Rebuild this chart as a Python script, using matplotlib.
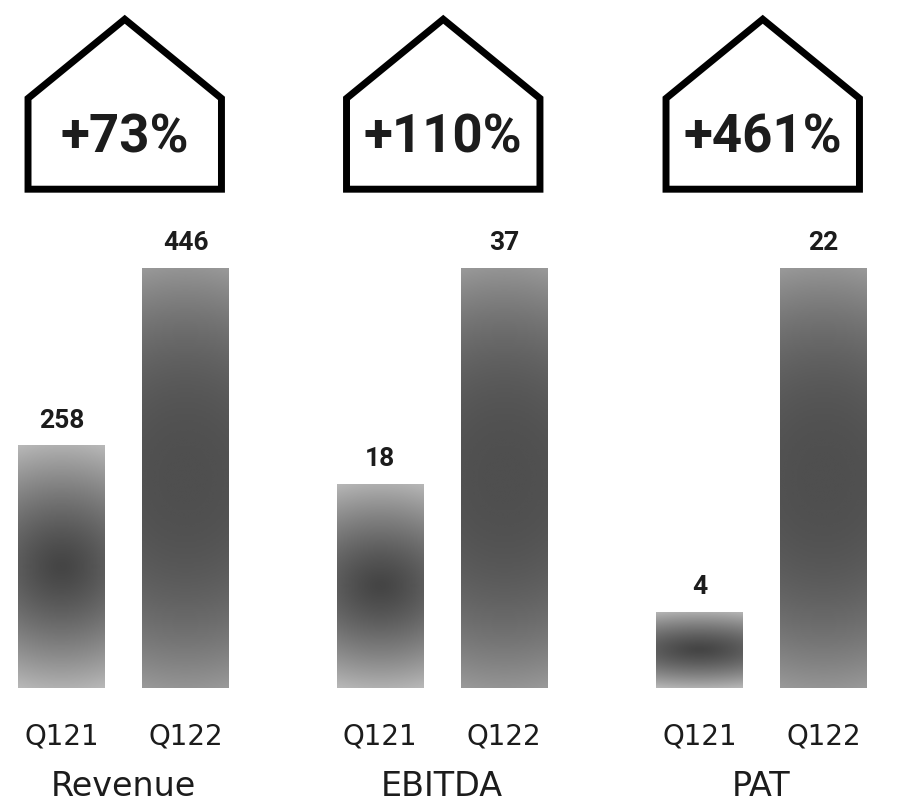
import numpy as np
import matplotlib
matplotlib.use("Agg")
import matplotlib.pyplot as plt
from matplotlib.patches import Polygon
from matplotlib.transforms import blended_transform_factory

# data
metrics = ["Revenue", "EBITDA", "PAT"]
quarters = ["Q121", "Q122"]
q121 = [258, 18, 4]
q122 = [446, 37, 22]
growth = ["+73%", "+110%", "+461%"]

W, H = 913, 809
U = 124                      # px per bar slot
left_centres = [61.5, 380, 699.5]
BOTTOM, TOP = 688, 268       # px of bar base / tallest bar top
TXT = "#1c1c1c"

# (x-radius, y-radius, power, dark, light) for the radial shading of each bar
SHADE = [(3.0, 1.0, 1.4, 0.27, 0.69), (4.0, 1.0, 2.4, 0.31, 0.58)]


def shading(ny, nx, rx, ry, p, dark, light):
    v = np.linspace(-1, 1, ny)[:, None]
    u = np.linspace(-1, 1, nx)[None, :]
    r = np.sqrt((u / rx) ** 2 + (v / ry) ** 2)
    return np.clip(dark + (light - dark) * r ** p, 0, 1)


fig = plt.figure(figsize=(W / 100, H / 100), dpi=100)

for i, m in enumerate(metrics):
    x0 = left_centres[i] - 0.45 * U
    ax = fig.add_axes([x0 / W, (H - BOTTOM) / H, 1.9 * U / W, BOTTOM / H])
    vals = [q121[i], q122[i]]
    bars = ax.bar([0, 1], vals, width=0.70, color="none", edgecolor="none")
    for j, b in enumerate(bars):
        img = shading(200, 60, *SHADE[j])
        im = ax.imshow(img, cmap="gray", vmin=0, vmax=1, aspect="auto", origin="lower",
                       interpolation="bicubic",
                       extent=[b.get_x(), b.get_x() + b.get_width(), 0, b.get_height()])
        im.set_clip_path(b)
        ax.annotate(f"{vals[j]}", (j, vals[j]), xytext=(0, 9), textcoords="offset points",
                    ha="center", va="bottom", fontsize=19, fontweight="bold",
                    family="Roboto", color=TXT)
    ax.set_xlim(-0.45, 1.45)
    ax.set_ylim(0, max(vals) * BOTTOM / (BOTTOM - TOP))
    ax.set_xticks([0, 1], quarters)
    ax.tick_params(axis="x", length=0, pad=25, labelsize=20, labelcolor=TXT)
    ax.set_yticks([])
    for s in ax.spines.values():
        s.set_visible(False)
    ax.set_xlabel(m, fontsize=24, labelpad=14, color=TXT)

    # house-shaped badge with the growth figure
    tr = blended_transform_factory(ax.transData, ax.transAxes)
    hx0, hx1 = -0.27, 1.29
    pts = [(hx0, 0.725), (hx0, 0.857), ((hx0 + hx1) / 2, 0.972), (hx1, 0.857), (hx1, 0.725)]
    ax.add_patch(Polygon(pts, closed=True, transform=tr, fill=False, lw=5, ec="black",
                         joinstyle="miter", clip_on=False))
    ax.text((hx0 + hx1) / 2, 0.779, growth[i], transform=tr, ha="center", va="baseline",
            fontsize=38, fontweight="bold", family="Roboto", color=TXT)

fig.savefig("out.png", dpi=100)
